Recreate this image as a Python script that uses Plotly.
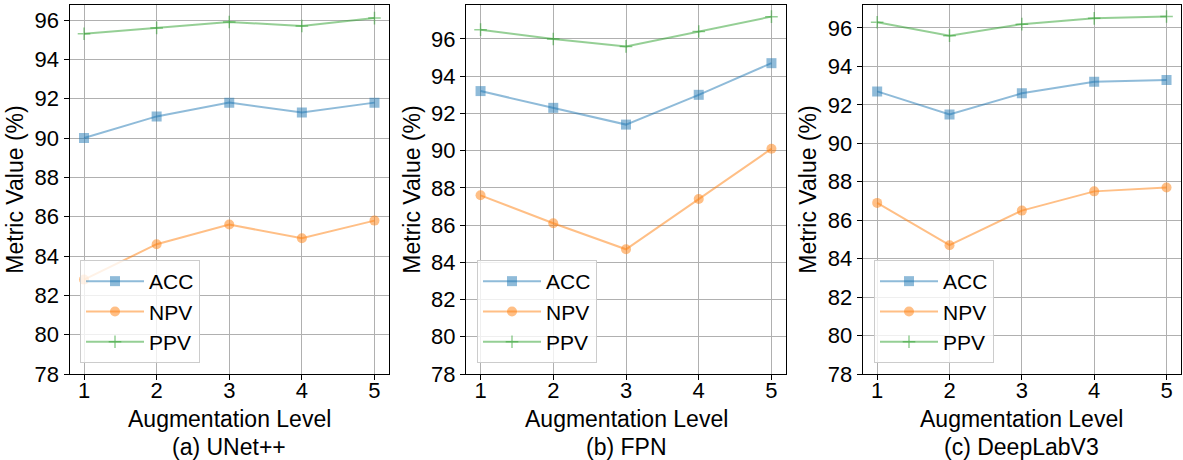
import plotly.graph_objects as go

levels = [1, 2, 3, 4, 5]
panel_titles = ["(a) UNet++", "(b) FPN", "(c) DeepLabV3"]
metric_names = ["ACC", "NPV", "PPV"]
x_title = "Augmentation Level"
y_title = "Metric Value (%)"

unet_acc = [90.0, 91.1, 91.8, 91.3, 91.8]
unet_npv = [82.8, 84.6, 85.6, 84.9, 85.8]
unet_ppv = [95.3, 95.6, 95.9, 95.7, 96.1]

fpn_acc = [93.2, 92.3, 91.4, 93.0, 94.7]
fpn_npv = [87.6, 86.1, 84.7, 87.4, 90.1]
fpn_ppv = [96.5, 96.0, 95.6, 96.4, 97.2]

dlv3_acc = [92.7, 91.5, 92.6, 93.2, 93.3]
dlv3_npv = [86.9, 84.7, 86.5, 87.5, 87.7]
dlv3_ppv = [96.3, 95.6, 96.2, 96.5, 96.6]

panels = [
    [unet_acc, unet_npv, unet_ppv],
    [fpn_acc, fpn_npv, fpn_ppv],
    [dlv3_acc, dlv3_npv, dlv3_ppv],
]

colors = ["rgba(31,119,180,0.5)", "rgba(255,127,14,0.5)", "rgba(44,160,44,0.5)"]
symbols = ["square", "circle", "cross-thin"]
msizes = [10, 10, 9]

W, H = 1183, 460
FONT = "Liberation Sans, Arial, Helvetica, sans-serif"

# axes pixel boxes (left, right)
xboxes = [(69.5, 389), (466, 786), (862.7, 1181)]
ytop, ybot = 5, 374
legend_left = [80, 477, 874]

fig = go.Figure()
layout = {}
annotations = []
for i, series in enumerate(panels):
    ax = "" if i == 0 else str(i + 1)
    leg = "legend" if i == 0 else f"legend{i + 1}"
    for j, vals in enumerate(series):
        fig.add_trace(go.Scatter(
            x=levels, y=vals, mode="lines+markers", name=metric_names[j],
            xaxis="x" + ax, yaxis="y" + ax, legend=leg,
            line=dict(color=colors[j], width=2),
            marker=dict(symbol=symbols[j], size=msizes[j], color=colors[j],
                        line=dict(color=colors[j], width=1.5 if j == 2 else 0)),
        ))
    allv = [v for s in series for v in s]
    lo, hi = min(allv), max(allv)
    ymax = hi + 0.05 * (hi - lo)
    x0, x1 = xboxes[i]
    layout["xaxis" + ax] = dict(
        domain=[x0 / W, x1 / W], anchor="y" + ax, range=[0.8, 5.2],
        automargin=False, ticklabelstandoff=-8,
        tickvals=levels, ticks="outside", ticklen=5, tickcolor="black",
        showline=True, mirror=True, linecolor="black", linewidth=1,
        showgrid=True, gridcolor="#b0b0b0", gridwidth=1, zeroline=False,
        tickfont=dict(size=22, color="black", family=FONT),
    )
    layout["yaxis" + ax] = dict(
        domain=[(H - ybot) / H, (H - ytop) / H], anchor="x" + ax,
        range=[78, ymax], dtick=2, tick0=78, ticks="outside", ticklen=5,
        automargin=False,
        tickcolor="black", showline=True, mirror=True, linecolor="black",
        linewidth=1, showgrid=True, gridcolor="#b0b0b0", gridwidth=1,
        zeroline=False, tickfont=dict(size=22, color="black", family=FONT),
        title=dict(text=y_title,
                   font=dict(size=23, color="black", family=FONT), standoff=4),
    )
    layout[leg] = dict(
        x=legend_left[i] / W, y=(H - 363) / H, xanchor="left", yanchor="bottom",
        bgcolor="rgba(255,255,255,0.8)", bordercolor="#cccccc", borderwidth=1,
        font=dict(size=21, color="black", family=FONT),
        tracegroupgap=0, itemwidth=58,
    )
    xc = (x0 + x1) / 2 / W
    annotations.append(dict(
        text=x_title, x=xc, y=(H - 419) / H, xref="paper", yref="paper",
        xanchor="center", yanchor="middle", showarrow=False,
        font=dict(size=23, color="black", family=FONT)))
    annotations.append(dict(
        text=panel_titles[i], x=xc, y=(H - 447) / H, xref="paper", yref="paper",
        xanchor="center", yanchor="middle", showarrow=False,
        font=dict(size=23, color="black", family=FONT)))

fig.update_layout(
    width=W, height=H, margin=dict(l=0, r=0, t=0, b=0, autoexpand=False),
    paper_bgcolor="white", plot_bgcolor="white",
    font=dict(family=FONT, color="black"), showlegend=True,
    annotations=annotations,
    **layout,
)

fig.write_html("out.html", config={"displayModeBar": False},
               post_script="document.body.style.margin='0';")
